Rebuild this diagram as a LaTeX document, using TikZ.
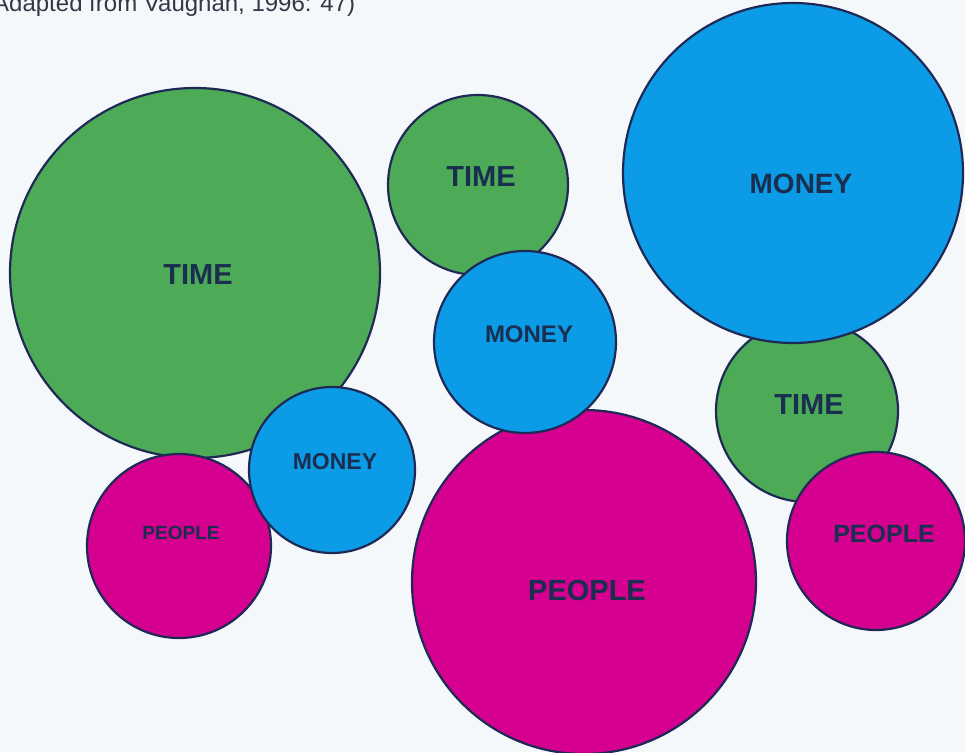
\documentclass[tikz,border=0pt]{standalone}
\usepackage{fontspec}
\setmainfont{Liberation Sans}
\definecolor{bgpaper}{HTML}{F5F8FB}
\definecolor{rimnavy}{HTML}{1E2A55}
\definecolor{inknavy}{HTML}{1A2F50}
\definecolor{timegreen}{HTML}{4DAB57}
\definecolor{moneyblue}{HTML}{0C9BE6}
\definecolor{peoplepink}{HTML}{D5008F}
\definecolor{captiongray}{HTML}{333846}
\tikzset{
  bubble/.style={circle, draw=rimnavy, line width=2.2pt, inner sep=0pt, minimum size=#1},
  timeb/.style={bubble=#1, fill=timegreen},
  moneyb/.style={bubble=#1, fill=moneyblue},
  peopleb/.style={bubble=#1, fill=peoplepink},
  word/.style={font=\bfseries\fontsize{#1}{#1}\selectfont, text=inknavy, inner sep=0pt},
}
\begin{document}
\begin{tikzpicture}[x=1pt, y=-1pt]
  \fill[bgpaper] (0,0) rectangle (965,752);
  \useasboundingbox (0,0) rectangle (965,752);

  % source line at the top edge
  \node[anchor=base west, inner sep=0pt, text=captiongray,
        font=\fontsize{24}{24}\selectfont] (caption) at (-7,12)
        {Adapted from Vaughan, 1996: 47)};

  % green bubbles
  \node[timeb=370pt]  (tA) at (195,273) {};
  \node[timeb=180pt]  (tB) at (478,185) {};
  \node[timeb=182pt]  (tC) at (807,411) {};
  % pink bubbles
  \node[peopleb=184pt] (pA) at (179,546) {};
  \node[peopleb=344pt] (pB) at (584,582) {};
  \node[peopleb=178pt] (pC) at (876,541) {};
  % blue bubbles
  \node[moneyb=340pt] (mA) at (793,173) {};
  \node[moneyb=182pt] (mB) at (525,342) {};
  \node[moneyb=166pt] (mC) at (332,470) {};

  % labels
  \node[word=29] (ltA) at (198,275) {TIME};
  \node[word=29] (ltB) at (481,177) {TIME};
  \node[word=29] (ltC) at (809,405) {TIME};
  \node[word=28] (lmA) at (801,184) {MONEY};
  \node[word=24] (lmB) at (529,334) {MONEY};
  \node[word=23] (lmC) at (335,462) {MONEY};
  \node[word=19] (lpA) at (181,533) {PEOPLE};
  \node[word=29] (lpB) at (587,591) {PEOPLE};
  \node[word=25] (lpC) at (884,534) {PEOPLE};
\end{tikzpicture}
\end{document}
